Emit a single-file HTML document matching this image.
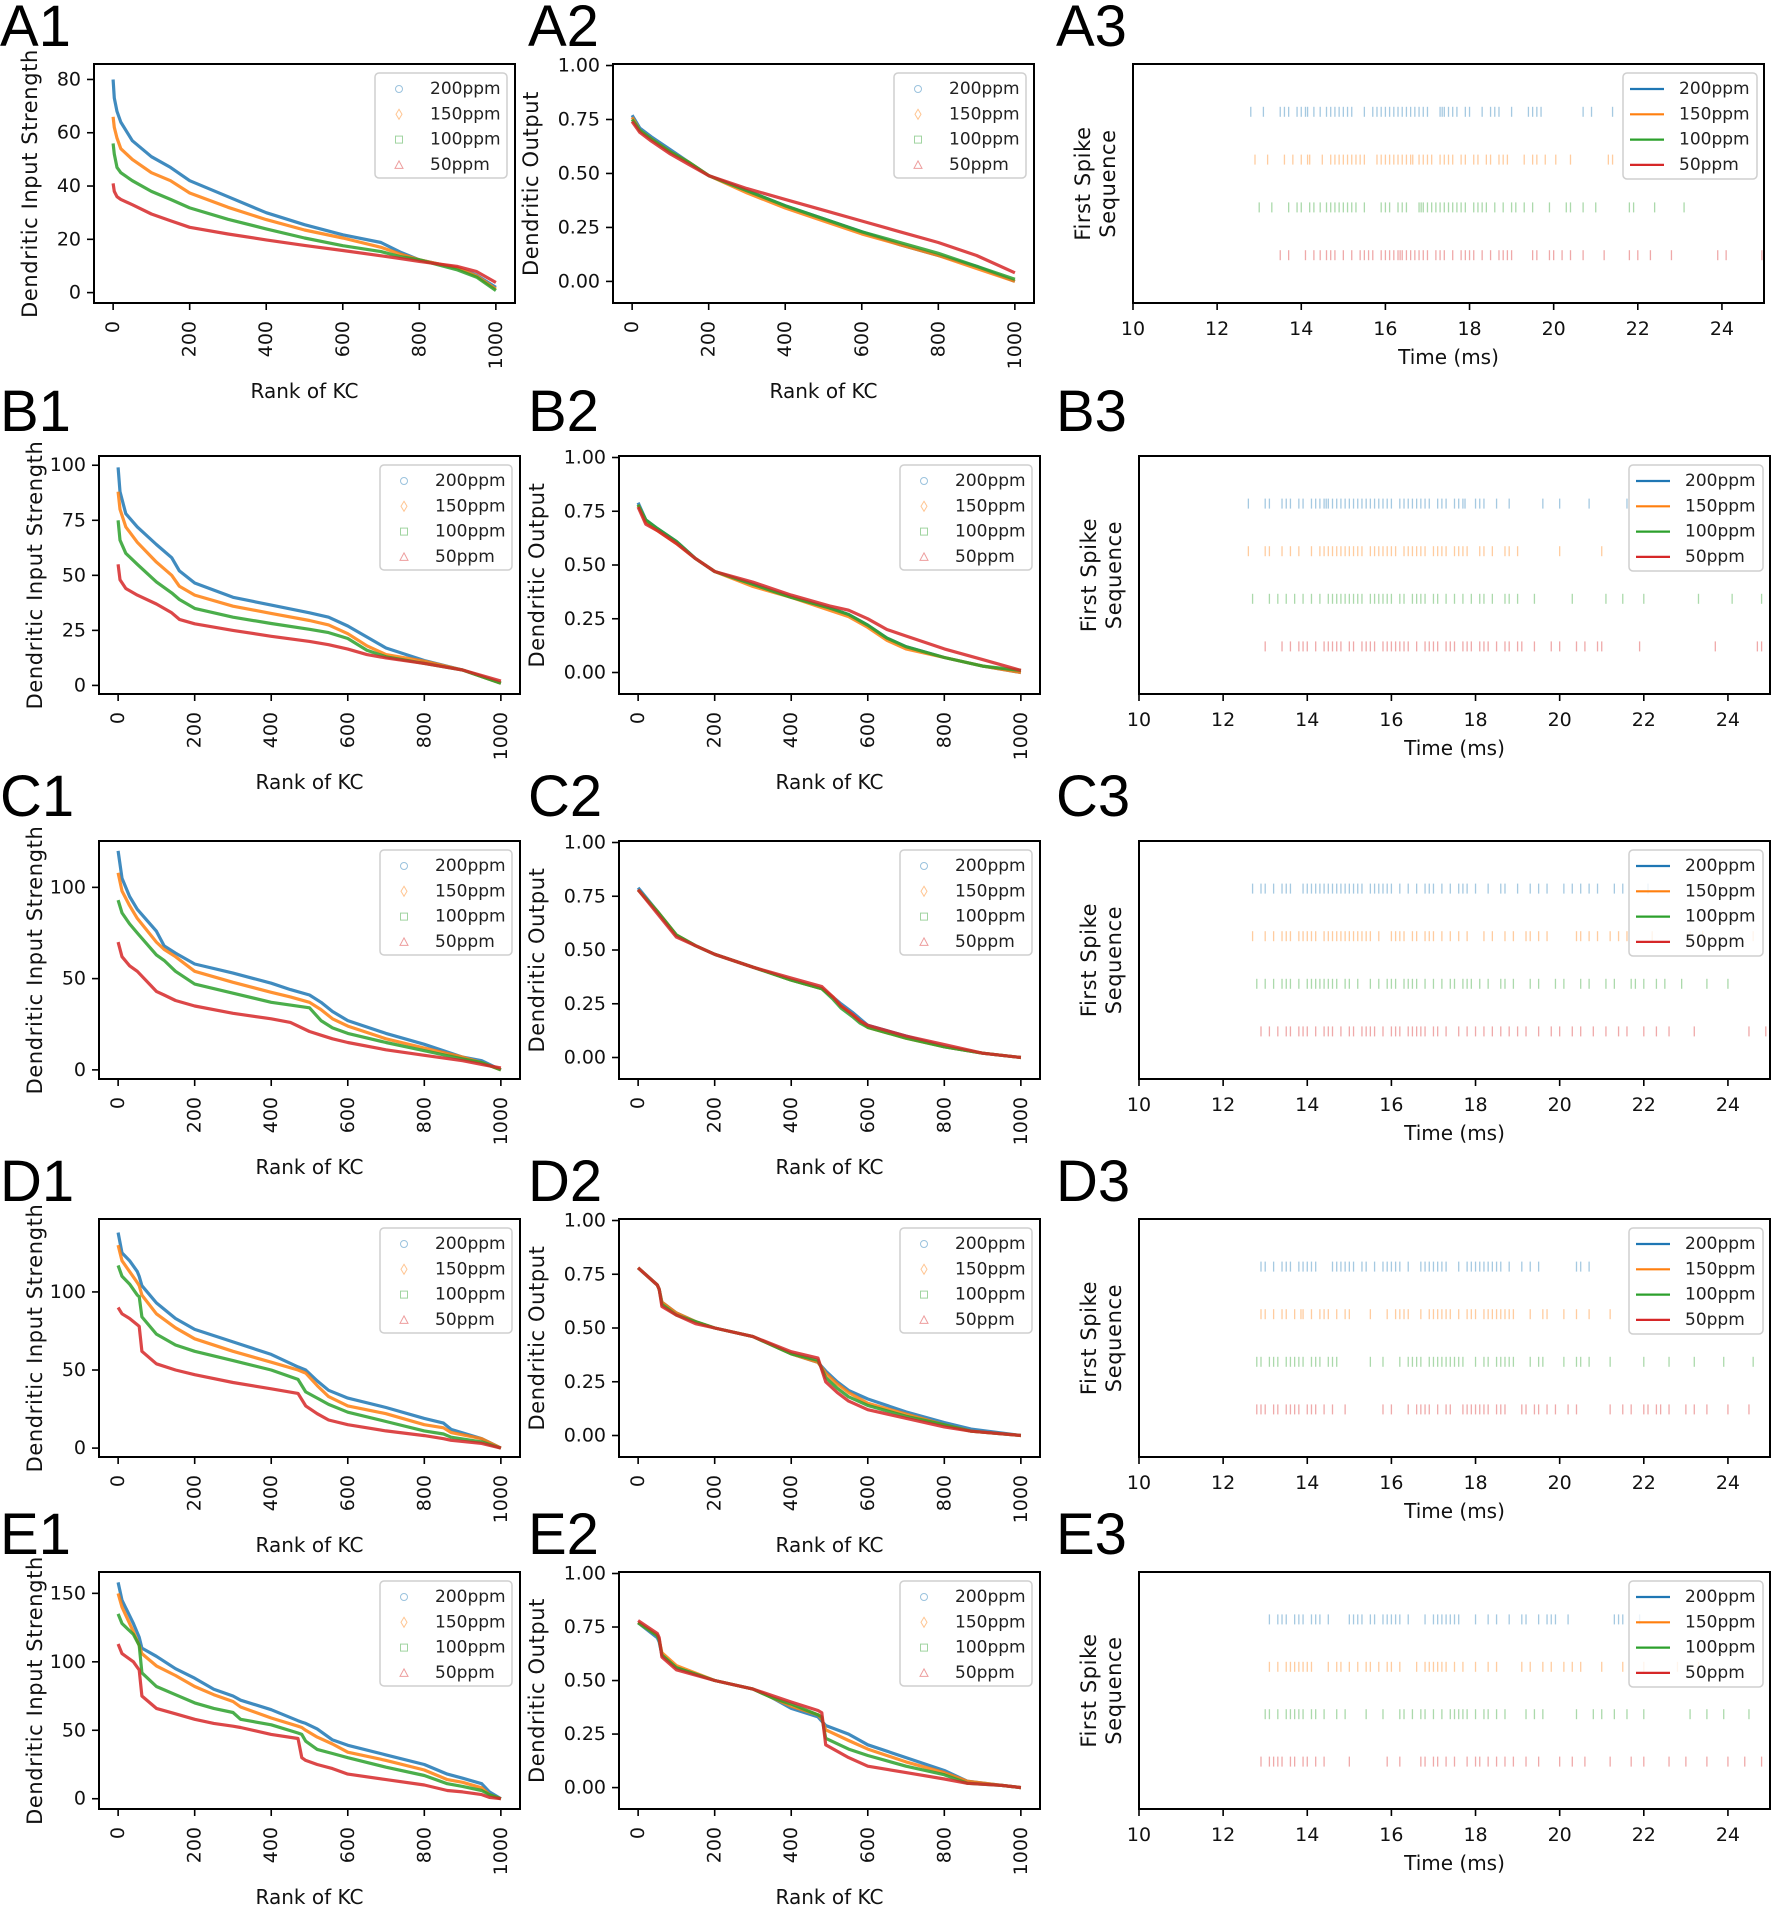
<!DOCTYPE html>
<html><head><meta charset="utf-8"><title>Dendritic input, output and first spike sequence</title>
<style>
html,body{margin:0;padding:0;background:#fff;}
svg{display:block;font-family:"DejaVu Sans","Liberation Sans",sans-serif;}
</style></head>
<body>
<svg id="fig" xmlns="http://www.w3.org/2000/svg" width="1772" height="1905" viewBox="0 0 1772 1905"></svg>
<script>
// ---------- DATA ----------
const seriesNames = ["200ppm","150ppm","100ppm","50ppm"];
const xTicksRank = [0,200,400,600,800,1000];
const xTicksTime = [10,12,14,16,18,20,22,24];
const yTicksOut = [0,0.25,0.5,0.75,1.0];
const yTickLabelsOut = ["0.00","0.25","0.50","0.75","1.00"];

const yTicksA1 = [0,20,40,60,80];
const yTicksB1 = [0,25,50,75,100];
const yTicksC1 = [0,50,100];
const yTicksD1 = [0,50,100];
const yTicksE1 = [0,50,100,150];

// A1
const rankA1 = [0,3,10,20,50,100,150,200,300,400,500,600,700,750,800,900,950,1000];
const a1Blue = [80,73,68,64,57,51,47,42,36,30,25.5,21.7,18.8,15.2,12.3,9.2,6.5,2];
const a1Orange = [66,62,58,54,50,45,42,37.4,32,27.4,23.5,20.5,17,14.5,12.3,9.2,6.2,1.3];
const a1Green = [56,52,47,45,42,38,35,31.8,27.5,23.9,20.5,17.6,15.4,13.5,12.3,8.5,5.8,0.8];
const a1Red = [41,38,36,35,33,29.5,27,24.5,22,19.8,17.7,15.8,13.8,12.8,11.7,9.8,7.9,3.8];
// A2
const rankA2 = [0,20,50,100,150,200,300,400,500,600,700,800,900,1000];
const a2Blue = [0.77,0.71,0.67,0.61,0.55,0.49,0.42,0.35,0.29,0.23,0.17,0.12,0.07,0.0];
const a2Orange = [0.76,0.70,0.66,0.60,0.55,0.49,0.41,0.34,0.28,0.22,0.17,0.12,0.06,0.0];
const a2Green = [0.75,0.70,0.66,0.60,0.55,0.49,0.42,0.35,0.29,0.23,0.18,0.13,0.07,0.01];
const a2Red = [0.74,0.69,0.65,0.59,0.54,0.49,0.43,0.38,0.33,0.28,0.23,0.18,0.12,0.04];
// B1
const rankB1 = [0,5,20,50,100,140,160,200,300,400,500,550,600,650,700,800,900,1000];
const b1Blue = [99,88,78,72,64,58,52,46.5,40,36.5,33,31,27,22,17,11.3,7,1];
const b1Orange = [88,80,72,65,56,50,45,41,36,32.7,29.5,27.5,23.5,18,14,11,7,1];
const b1Green = [75,66,60,55,47,42,39,35,31,28.1,25.5,24,21.3,16,13,10,7,1];
const b1Red = [55,48,44,41,37,33,30,28,25,22.3,20,18.5,16.5,14,12.5,10,7,2];
// B2
const rankB2 = [0,20,50,100,150,200,300,400,500,550,600,650,700,800,900,1000];
const b2Blue = [0.79,0.71,0.67,0.61,0.53,0.47,0.41,0.35,0.30,0.27,0.22,0.16,0.12,0.07,0.03,0.0];
const b2Orange = [0.78,0.70,0.66,0.60,0.53,0.47,0.40,0.35,0.29,0.26,0.21,0.15,0.11,0.07,0.03,0.0];
const b2Green = [0.78,0.71,0.67,0.61,0.53,0.47,0.41,0.35,0.30,0.27,0.22,0.16,0.12,0.07,0.03,0.01];
const b2Red = [0.77,0.69,0.66,0.60,0.53,0.47,0.42,0.36,0.31,0.29,0.25,0.20,0.17,0.11,0.06,0.01];
// C1
const rankC1 = [0,10,30,50,100,120,150,200,300,400,450,500,530,560,600,700,800,900,950,1000];
const c1Blue = [120,105,95,88,76,68,64,58,53,47.5,44,41,37,32,27,20,14,7,5,0];
const c1Orange = [108,98,90,83,70,66,62,54,48,42.5,40,37,33,28,24,17,12,7,4,0];
const c1Green = [93,86,80,75,63,60,54,47,42,37,35.5,34,27,23,20,15,10.5,6,4,0];
const c1Red = [70,62,57,54,43,41,38,35,31,28,26,21,19,17,15,11,8,5,3,1];
// C2
const rankC2 = [0,50,100,150,200,300,400,480,510,530,560,580,600,700,800,900,1000];
const c2Blue = [0.79,0.68,0.57,0.52,0.48,0.42,0.36,0.32,0.28,0.25,0.21,0.18,0.15,0.10,0.05,0.02,0.0];
const c2Orange = [0.78,0.68,0.57,0.52,0.48,0.42,0.36,0.32,0.28,0.24,0.20,0.17,0.14,0.09,0.05,0.02,0.0];
const c2Green = [0.78,0.68,0.57,0.52,0.48,0.42,0.36,0.32,0.27,0.23,0.19,0.16,0.14,0.09,0.05,0.02,0.0];
const c2Red = [0.78,0.67,0.56,0.52,0.48,0.42,0.37,0.33,0.28,0.24,0.20,0.17,0.15,0.10,0.06,0.02,0.0];
// D1
const rankD1 = [0,10,30,50,55,62,100,150,200,300,400,470,490,520,550,600,700,800,850,870,950,1000];
const d1Blue = [138,125,120,113,110,104,93,83,76,68,60,52,50,43,37,32,26,19,16,12,6,0];
const d1Orange = [130,120,113,106,104,98,86,77,70,62,55,50,48,40,33,27,22,15,13,10,6,0];
const d1Green = [117,110,105,98,97,84,73,66,62,56,50,44,36,32,28,23,17,11,9,7,4,0];
const d1Red = [90,86,83,79,78,62,54,50,47,42,38,35,27,22,18,15,11,8,6,5,3,0];
// D2
const rankD2 = [0,50,55,62,100,150,200,300,400,470,490,520,550,600,700,800,870,1000];
const d2Blue = [0.78,0.70,0.68,0.62,0.57,0.53,0.50,0.46,0.38,0.34,0.30,0.25,0.21,0.17,0.11,0.06,0.03,0.0];
const d2Orange = [0.78,0.70,0.68,0.62,0.57,0.53,0.50,0.46,0.38,0.34,0.29,0.24,0.20,0.15,0.10,0.05,0.02,0.0];
const d2Green = [0.78,0.70,0.68,0.61,0.56,0.53,0.50,0.46,0.38,0.35,0.27,0.22,0.18,0.14,0.09,0.05,0.02,0.0];
const d2Red = [0.78,0.70,0.68,0.60,0.56,0.52,0.50,0.46,0.39,0.36,0.25,0.20,0.16,0.12,0.08,0.04,0.02,0.0];
// E1
const rankE1 = [0,10,40,55,62,100,150,200,250,300,320,400,470,480,490,520,560,600,700,800,860,900,950,970,1000];
const e1Blue = [158,145,128,118,110,104,95,88,80,75,72,65,57,56,55,51,43,39,32,25,18,15,11,5,0];
const e1Orange = [150,140,122,112,106,97,90,82,76,71,67,59,53,52,50,45,40,34,28,21,14,12,8,3,0];
const e1Green = [135,128,120,112,92,82,76,70,66,63,58,54,48,47,42,36,33,30,23,17,11,9,6,3,0];
const e1Red = [113,106,100,94,75,66,62,58,55,53,52,47,44,30,28,25,22,18,14,10,6,5,3,1,0];
// E2
const rankE2 = [0,50,55,62,100,200,300,350,400,470,480,490,550,600,700,800,860,950,1000];
const e2Blue = [0.77,0.70,0.68,0.62,0.56,0.50,0.46,0.42,0.37,0.33,0.31,0.29,0.25,0.20,0.14,0.08,0.03,0.01,0.0];
const e2Orange = [0.77,0.71,0.69,0.63,0.57,0.50,0.46,0.42,0.38,0.34,0.32,0.27,0.22,0.18,0.12,0.07,0.03,0.01,0.0];
const e2Green = [0.77,0.71,0.69,0.62,0.56,0.50,0.46,0.42,0.39,0.34,0.33,0.23,0.18,0.15,0.10,0.06,0.02,0.01,0.0];
const e2Red = [0.78,0.72,0.70,0.61,0.55,0.50,0.46,0.43,0.40,0.36,0.35,0.20,0.14,0.10,0.07,0.04,0.02,0.01,0.0];

// Spike times (ms)
const a3Blue = [12.8,13.1,13.5,13.6,13.7,13.9,14.0,14.1,14.15,14.3,14.45,14.6,14.7,14.8,14.9,15.0,15.1,15.2,15.5,15.7,15.8,15.9,16.0,16.1,16.2,16.3,16.4,16.5,16.6,16.7,16.8,16.9,17.0,17.3,17.35,17.4,17.5,17.6,17.7,17.9,18.0,18.3,18.5,18.6,18.7,19.0,19.4,19.5,19.6,19.7,20.7,20.9,21.4];
const a3Orange = [12.9,13.2,13.6,13.8,14.0,14.15,14.2,14.5,14.7,14.8,14.9,15.0,15.1,15.2,15.3,15.4,15.5,15.8,15.9,16.0,16.1,16.2,16.3,16.4,16.5,16.6,16.65,16.8,16.9,17.0,17.1,17.3,17.4,17.5,17.6,17.8,17.9,18.1,18.2,18.4,18.5,18.7,18.8,18.9,19.3,19.5,19.6,19.8,20.05,20.4,21.3,21.4];
const a3Green = [13.0,13.3,13.7,13.9,14.0,14.2,14.3,14.45,14.6,14.7,14.8,14.9,15.0,15.1,15.2,15.3,15.5,15.9,16.0,16.1,16.3,16.4,16.5,16.8,16.85,16.9,17.0,17.1,17.2,17.3,17.4,17.5,17.6,17.7,17.8,17.9,18.1,18.2,18.3,18.4,18.6,18.8,19.0,19.1,19.3,19.5,19.9,20.3,20.4,20.7,21.0,21.8,21.9,22.4,23.1];
const a3Red = [13.5,13.7,14.1,14.3,14.45,14.6,14.7,14.8,15.0,15.2,15.4,15.5,15.6,15.7,15.9,16.0,16.1,16.2,16.3,16.35,16.4,16.5,16.6,16.7,16.8,16.9,17.0,17.2,17.3,17.4,17.6,17.8,17.9,18.0,18.1,18.3,18.5,18.7,18.8,18.9,19.0,19.5,19.6,19.9,20.0,20.2,20.4,20.7,21.2,21.8,22.0,22.3,22.8,23.9,24.1,24.95];
const b3Blue = [12.6,13.0,13.1,13.4,13.5,13.6,13.8,13.9,14.1,14.2,14.3,14.4,14.45,14.5,14.6,14.7,14.8,14.9,15.0,15.1,15.2,15.3,15.4,15.5,15.6,15.7,15.8,15.9,16.0,16.2,16.3,16.4,16.5,16.6,16.7,16.8,16.9,17.1,17.2,17.3,17.5,17.6,17.7,17.75,18.0,18.1,18.2,18.5,18.8,19.6,20.0,20.7,21.6];
const b3Orange = [12.6,13.0,13.1,13.4,13.6,13.8,14.1,14.3,14.4,14.5,14.6,14.7,14.8,14.9,15.0,15.1,15.2,15.3,15.5,15.6,15.7,15.8,15.9,16.0,16.1,16.3,16.4,16.5,16.6,16.7,16.8,17.0,17.1,17.2,17.3,17.5,17.6,17.7,17.8,18.1,18.2,18.4,18.7,18.8,19.0,20.0,21.0];
const b3Green = [12.7,13.1,13.3,13.5,13.7,13.9,14.1,14.3,14.5,14.6,14.7,14.8,14.9,15.0,15.1,15.2,15.3,15.5,15.6,15.7,15.8,15.9,16.0,16.2,16.3,16.5,16.6,16.7,16.8,17.0,17.1,17.3,17.5,17.7,17.9,18.1,18.2,18.4,18.7,18.8,19.0,19.4,20.3,21.1,21.5,22.0,23.3,24.1,24.8];
const b3Red = [13.0,13.4,13.6,13.8,13.9,14.0,14.2,14.4,14.5,14.6,14.7,14.8,15.0,15.1,15.3,15.4,15.5,15.6,15.8,15.9,16.0,16.1,16.2,16.3,16.4,16.6,16.8,16.9,17.0,17.1,17.3,17.4,17.5,17.7,17.8,17.9,18.1,18.2,18.3,18.5,18.7,18.8,19.0,19.1,19.4,19.8,20.0,20.4,20.6,20.9,21.0,21.9,23.7,24.7,24.8];
const c3Blue = [12.7,12.9,13.0,13.2,13.4,13.5,13.6,13.9,14.0,14.1,14.2,14.3,14.4,14.5,14.6,14.7,14.8,14.9,15.0,15.1,15.2,15.3,15.5,15.6,15.7,15.8,15.9,16.0,16.2,16.4,16.6,16.8,16.9,17.0,17.2,17.4,17.6,17.7,17.8,18.0,18.3,18.6,18.7,19.0,19.3,19.5,19.7,20.1,20.3,20.5,20.7,20.9,21.3,21.5,22.1];
const c3Orange = [12.7,13.0,13.2,13.4,13.5,13.6,13.8,13.9,14.0,14.1,14.2,14.4,14.5,14.6,14.7,14.8,14.9,15.0,15.1,15.2,15.3,15.4,15.5,15.7,16.0,16.1,16.2,16.3,16.5,16.6,16.8,16.9,17.0,17.2,17.4,17.6,17.8,18.2,18.4,18.7,18.9,19.2,19.3,19.5,19.7,20.4,20.5,20.7,20.9,21.2,21.4,21.6,22.2,23.1,23.4,24.6];
const c3Green = [12.8,13.0,13.2,13.4,13.5,13.6,13.8,14.0,14.1,14.2,14.3,14.4,14.5,14.6,14.7,14.9,15.0,15.2,15.5,15.7,15.9,16.0,16.1,16.3,16.4,16.5,16.6,16.8,17.0,17.2,17.4,17.5,17.7,17.8,17.9,18.1,18.3,18.6,18.7,18.9,19.3,19.5,19.9,20.1,20.5,20.7,21.1,21.3,21.7,21.8,22.0,22.3,22.5,22.9,23.5,24.0];
const c3Red = [12.9,13.1,13.3,13.5,13.6,13.8,13.9,14.0,14.2,14.4,14.5,14.6,14.8,15.0,15.1,15.3,15.4,15.5,15.6,15.8,16.0,16.1,16.2,16.4,16.5,16.6,16.7,16.8,17.0,17.1,17.3,17.6,17.8,18.0,18.2,18.4,18.6,18.8,19.0,19.2,19.5,19.8,20.0,20.3,20.5,20.8,21.1,21.4,21.6,22.0,22.3,22.6,23.2,24.5,24.9];
const d3Blue = [12.9,13.0,13.2,13.4,13.5,13.6,13.8,13.9,14.0,14.1,14.2,14.6,14.7,14.8,14.9,15.0,15.1,15.3,15.4,15.6,15.8,15.9,16.0,16.1,16.2,16.4,16.7,16.8,16.9,17.0,17.1,17.2,17.3,17.6,17.8,17.9,18.0,18.1,18.2,18.3,18.4,18.5,18.6,18.8,19.1,19.3,19.5,20.4,20.5,20.7];
const d3Orange = [12.9,13.0,13.2,13.4,13.5,13.7,13.85,13.9,14.1,14.3,14.4,14.5,14.7,14.9,15.0,15.5,15.9,16.1,16.2,16.3,16.4,16.7,16.9,17.0,17.1,17.2,17.3,17.4,17.6,17.8,17.9,18.0,18.2,18.3,18.4,18.5,18.6,18.7,18.8,18.9,19.3,19.6,19.7,20.1,20.4,20.7,21.2];
const d3Green = [12.8,12.9,13.1,13.2,13.3,13.5,13.6,13.7,13.8,13.9,14.1,14.2,14.3,14.5,14.6,14.7,15.5,15.8,16.2,16.4,16.5,16.6,16.7,16.9,17.0,17.1,17.2,17.3,17.4,17.5,17.6,17.7,18.0,18.2,18.3,18.5,18.6,18.7,18.8,18.9,19.3,19.5,19.6,20.1,20.4,20.5,20.7,21.2,22.0,22.6,23.2,23.9,24.6];
const d3Red = [12.8,12.9,13.0,13.2,13.3,13.5,13.6,13.7,13.8,14.0,14.1,14.2,14.4,14.6,14.9,15.8,16.0,16.4,16.6,16.7,16.8,16.9,17.1,17.3,17.4,17.7,17.8,17.9,18.0,18.1,18.2,18.3,18.5,18.6,18.7,19.1,19.2,19.4,19.5,19.7,19.9,20.2,20.4,21.2,21.5,21.7,22.0,22.1,22.3,22.4,22.6,23.0,23.2,23.5,24.0,24.5];
const e3Blue = [13.1,13.3,13.4,13.5,13.7,13.8,13.9,14.1,14.2,14.3,14.5,15.0,15.1,15.2,15.3,15.5,15.6,15.8,15.9,16.0,16.1,16.2,16.4,16.8,17.0,17.1,17.2,17.3,17.4,17.5,17.6,18.0,18.3,18.5,18.8,19.1,19.2,19.5,19.7,19.8,19.9,20.2,21.3,21.4,21.5,21.9];
const e3Orange = [13.1,13.3,13.5,13.6,13.7,13.8,13.9,14.0,14.1,14.5,14.7,14.8,15.0,15.2,15.4,15.5,15.7,15.9,16.0,16.2,16.6,16.8,16.9,17.0,17.1,17.2,17.3,17.5,17.7,18.0,18.3,18.5,19.1,19.3,19.6,19.8,20.1,20.3,20.5,21.0,21.5,22.0,22.8,23.3];
const e3Green = [13.0,13.1,13.3,13.5,13.6,13.7,13.8,13.9,14.1,14.2,14.4,14.7,14.9,15.4,15.8,16.2,16.3,16.5,16.7,16.8,17.0,17.2,17.4,17.5,17.6,17.7,17.8,18.0,18.2,18.3,18.5,18.7,19.2,19.4,19.6,20.4,20.8,21.0,21.3,21.6,22.0,23.1,23.5,23.9,24.5];
const e3Red = [12.9,13.1,13.2,13.3,13.4,13.6,13.7,13.9,14.0,14.2,14.4,15.0,15.9,16.2,16.7,16.8,17.0,17.1,17.3,17.5,17.8,18.0,18.1,18.3,18.5,18.7,18.9,19.2,19.5,20.0,20.3,20.6,21.2,21.7,22.0,22.6,23.0,23.5,24.0,24.4,24.8];

// ---------- LAYOUT ----------
const COLORS = ["#1f77b4","#ff7f0e","#2ca02c","#d62728"];
const NS = "http://www.w3.org/2000/svg";
const svg = document.getElementById("fig");
function mk(tag, attrs, parent){
  const e = document.createElementNS(NS, tag);
  for (const k in attrs) e.setAttribute(k, attrs[k]);
  (parent||svg).appendChild(e);
  return e;
}
const rows = [
  {k:"A", top:64, bottom:303, c1:[94,515], c2:[613,1034], c3:[1133,1764], labY:46, y1:[-3.9,85.8], t1:yTicksA1,
   r1:rankA1, s1:[a1Blue,a1Orange,a1Green,a1Red], r2:rankA2, s2:[a2Blue,a2Orange,a2Green,a2Red], sp:[a3Blue,a3Orange,a3Green,a3Red]},
  {k:"B", top:456, bottom:694, c1:[99,520], c2:[619,1040], c3:[1139,1770], labY:431, y1:[-3.9,104.2], t1:yTicksB1,
   r1:rankB1, s1:[b1Blue,b1Orange,b1Green,b1Red], r2:rankB2, s2:[b2Blue,b2Orange,b2Green,b2Red], sp:[b3Blue,b3Orange,b3Green,b3Red]},
  {k:"C", top:841, bottom:1079, c1:[99,520], c2:[619,1040], c3:[1139,1770], labY:816, y1:[-5,125.4], t1:yTicksC1,
   r1:rankC1, s1:[c1Blue,c1Orange,c1Green,c1Red], r2:rankC2, s2:[c2Blue,c2Orange,c2Green,c2Red], sp:[c3Blue,c3Orange,c3Green,c3Red]},
  {k:"D", top:1219, bottom:1457, c1:[99,520], c2:[619,1040], c3:[1139,1770], labY:1201, y1:[-5.7,146.7], t1:yTicksD1,
   r1:rankD1, s1:[d1Blue,d1Orange,d1Green,d1Red], r2:rankD2, s2:[d2Blue,d2Orange,d2Green,d2Red], sp:[d3Blue,d3Orange,d3Green,d3Red]},
  {k:"E", top:1572, bottom:1809, c1:[99,520], c2:[619,1040], c3:[1139,1770], labY:1554, y1:[-7.5,165.6], t1:yTicksE1,
   r1:rankE1, s1:[e1Blue,e1Orange,e1Green,e1Red], r2:rankE2, s2:[e2Blue,e2Orange,e2Green,e2Red], sp:[e3Blue,e3Orange,e3Green,e3Red]}
];
const XR = [-50,1050];
const YOUT = [-0.1,1.007];
const XT = [10,25];

function scale(d0,d1,p0,p1){ return v => p0 + (v-d0)/(d1-d0)*(p1-p0); }

function panelLabel(text, x, y){
  const t = mk("text",{x:x,y:y,"font-size":58,"font-family":"Liberation Sans, sans-serif",fill:"#000"});
  
  
  t.textContent = text;
}

function frame(g, x0,x1,y0,y1){
  const r = mk("rect",{x:x0,y:y0,width:x1-x0,height:y1-y0,fill:"none",stroke:"#000","stroke-width":2},g);
  
  
}

function rankPanel(row, col, ranks, series, yr, yticks, ylabs, ytitle, ytitleX){
  const [x0,x1] = col; const y0=row.top, y1=row.bottom;
  const g = mk("g",{});
  
  
  const sx = scale(XR[0],XR[1],x0,x1), sy = scale(yr[0],yr[1],y1,y0);
  series.forEach((vals,si)=>{
    const pts = ranks.map((r,i)=>sx(r).toFixed(1)+","+sy(vals[i]).toFixed(1)).join(" ");
    const pl = mk("polyline",{points:pts,fill:"none",stroke:COLORS[si],"stroke-width":3.2,"stroke-opacity":0.85,"stroke-linejoin":"round"},g);
    
    
  });
  frame(g,x0,x1,y0,y1);
  yticks.forEach((v,i)=>{
    const y = sy(v);
    mk("line",{x1:x0-7,x2:x0,y1:y,y2:y,stroke:"#000","stroke-width":1.6},g);
    const t = mk("text",{x:x0-13,y:y,"text-anchor":"end","dominant-baseline":"central","font-size":19,fill:"#111"},g);
    
    
    t.textContent = ylabs ? ylabs[i] : String(v);
  });
  xTicksRank.forEach(v=>{
    const x = sx(v);
    mk("line",{x1:x,x2:x,y1:y1,y2:y1+7,stroke:"#000","stroke-width":1.6},g);
    const t = mk("text",{x:x,y:y1+18,"text-anchor":"end","dominant-baseline":"central","font-size":19,fill:"#111",transform:"rotate(-90 "+x+" "+(y1+18)+")"},g);
    
    
    t.textContent = String(v);
  });
  const xl = mk("text",{x:(x0+x1)/2,y:y1+88,"text-anchor":"middle","dominant-baseline":"central","font-size":20,fill:"#111"},g);
  
  
  xl.textContent = "Rank of KC";
  const cy = (y0+y1)/2;
  const yl = mk("text",{x:ytitleX,y:cy,"text-anchor":"middle","dominant-baseline":"central","font-size":21,"letter-spacing":"0.6",fill:"#111",transform:"rotate(-90 "+ytitleX+" "+cy+")"},g);
  
  
  yl.textContent = ytitle;
  const lx1 = x1-8, lx0 = lx1-132, ly0 = y0+9;
  const lg = mk("g",{},g);
  
  
  mk("rect",{x:lx0,y:ly0,width:132,height:105,rx:4,fill:"#fff","fill-opacity":0.8,stroke:"#cfcfcf","stroke-width":1.5},lg);
  seriesNames.forEach((n,i)=>{
    const ey = ly0+16+i*25.3, mx = lx0+24;
    let m;
    if(i===0) m = mk("circle",{cx:mx,cy:ey,r:3.5},lg);
    else if(i===1) m = mk("path",{d:`M${mx},${ey-5} L${mx+3},${ey} L${mx},${ey+5} L${mx-3},${ey} Z`},lg);
    else if(i===2) m = mk("rect",{x:mx-3.5,y:ey-3.5,width:7,height:7},lg);
    else m = mk("path",{d:`M${mx},${ey-4} L${mx+4},${ey+3.5} L${mx-4},${ey+3.5} Z`},lg);
    m.setAttribute("fill","none"); m.setAttribute("stroke",COLORS[i]); m.setAttribute("stroke-opacity",0.45); m.setAttribute("stroke-width",1);
    
    
    const t = mk("text",{x:lx0+55,y:ey,"dominant-baseline":"central","font-size":17,fill:"#222"},lg);
    
    
    t.textContent = n;
  });
}

function spikePanel(row){
  const [x0,x1] = row.c3; const y0=row.top, y1=row.bottom;
  const g = mk("g",{});
  
  
  const sx = scale(XT[0],XT[1],x0,x1);
  const sy = i => y0 + (y1-y0)*(i+1)/5;
  row.sp.forEach((times,si)=>{
    const yc = sy(si);
    times.forEach(t=>{
      const x = sx(t);
      const l = mk("line",{x1:x,x2:x,y1:yc-5,y2:yc+5,stroke:COLORS[si],"stroke-width":1.3,"stroke-opacity":0.4},g);
      
      
    });
  });
  frame(g,x0,x1,y0,y1);
  xTicksTime.forEach(v=>{
    const x = sx(v);
    mk("line",{x1:x,x2:x,y1:y1,y2:y1+7,stroke:"#000","stroke-width":1.6},g);
    const t = mk("text",{x:x,y:y1+26,"text-anchor":"middle","dominant-baseline":"central","font-size":19,fill:"#111"},g);
    
    
    t.textContent = String(v);
  });
  const xl = mk("text",{x:(x0+x1)/2,y:y1+54,"text-anchor":"middle","dominant-baseline":"central","font-size":20,fill:"#111"},g);
  
  
  xl.textContent = "Time (ms)";
  const cy=(y0+y1)/2;
  const yl1 = mk("text",{x:x0-50,y:cy,"text-anchor":"middle","dominant-baseline":"central","font-size":21,"letter-spacing":"0.6",fill:"#111",transform:"rotate(-90 "+(x0-50)+" "+cy+")"},g);
  
  
  yl1.textContent = "First Spike";
  const yl2 = mk("text",{x:x0-25,y:cy,"text-anchor":"middle","dominant-baseline":"central","font-size":21,"letter-spacing":"0.6",fill:"#111",transform:"rotate(-90 "+(x0-25)+" "+cy+")"},g);
  
  
  yl2.textContent = "Sequence";
  const lx1 = x1-7, lx0 = lx1-134, ly0 = y0+9;
  const lg = mk("g",{},g);
  
  
  mk("rect",{x:lx0,y:ly0,width:134,height:106,rx:4,fill:"#fff","fill-opacity":0.8,stroke:"#cfcfcf","stroke-width":1.5},lg);
  seriesNames.forEach((n,i)=>{
    const ey = ly0+16+i*25.3;
    const l = mk("line",{x1:lx0+7,x2:lx0+41,y1:ey,y2:ey,stroke:COLORS[i],"stroke-width":2.2},lg);
    
    
    const t = mk("text",{x:lx0+56,y:ey,"dominant-baseline":"central","font-size":17,fill:"#222"},lg);
    
    
    t.textContent = n;
  });
}

rows.forEach(row=>{
  rankPanel(row,row.c1,row.r1,row.s1,row.y1,row.t1,null,"Dendritic Input Strength",row.c1[0]-64);
  rankPanel(row,row.c2,row.r2,row.s2,YOUT,yTicksOut,yTickLabelsOut,"Dendritic Output",row.c2[0]-82);
  spikePanel(row);
  panelLabel(row.k+"1",0,row.labY);
  panelLabel(row.k+"2",528,row.labY);
  panelLabel(row.k+"3",1056,row.labY);
});
</script>
</body></html>
